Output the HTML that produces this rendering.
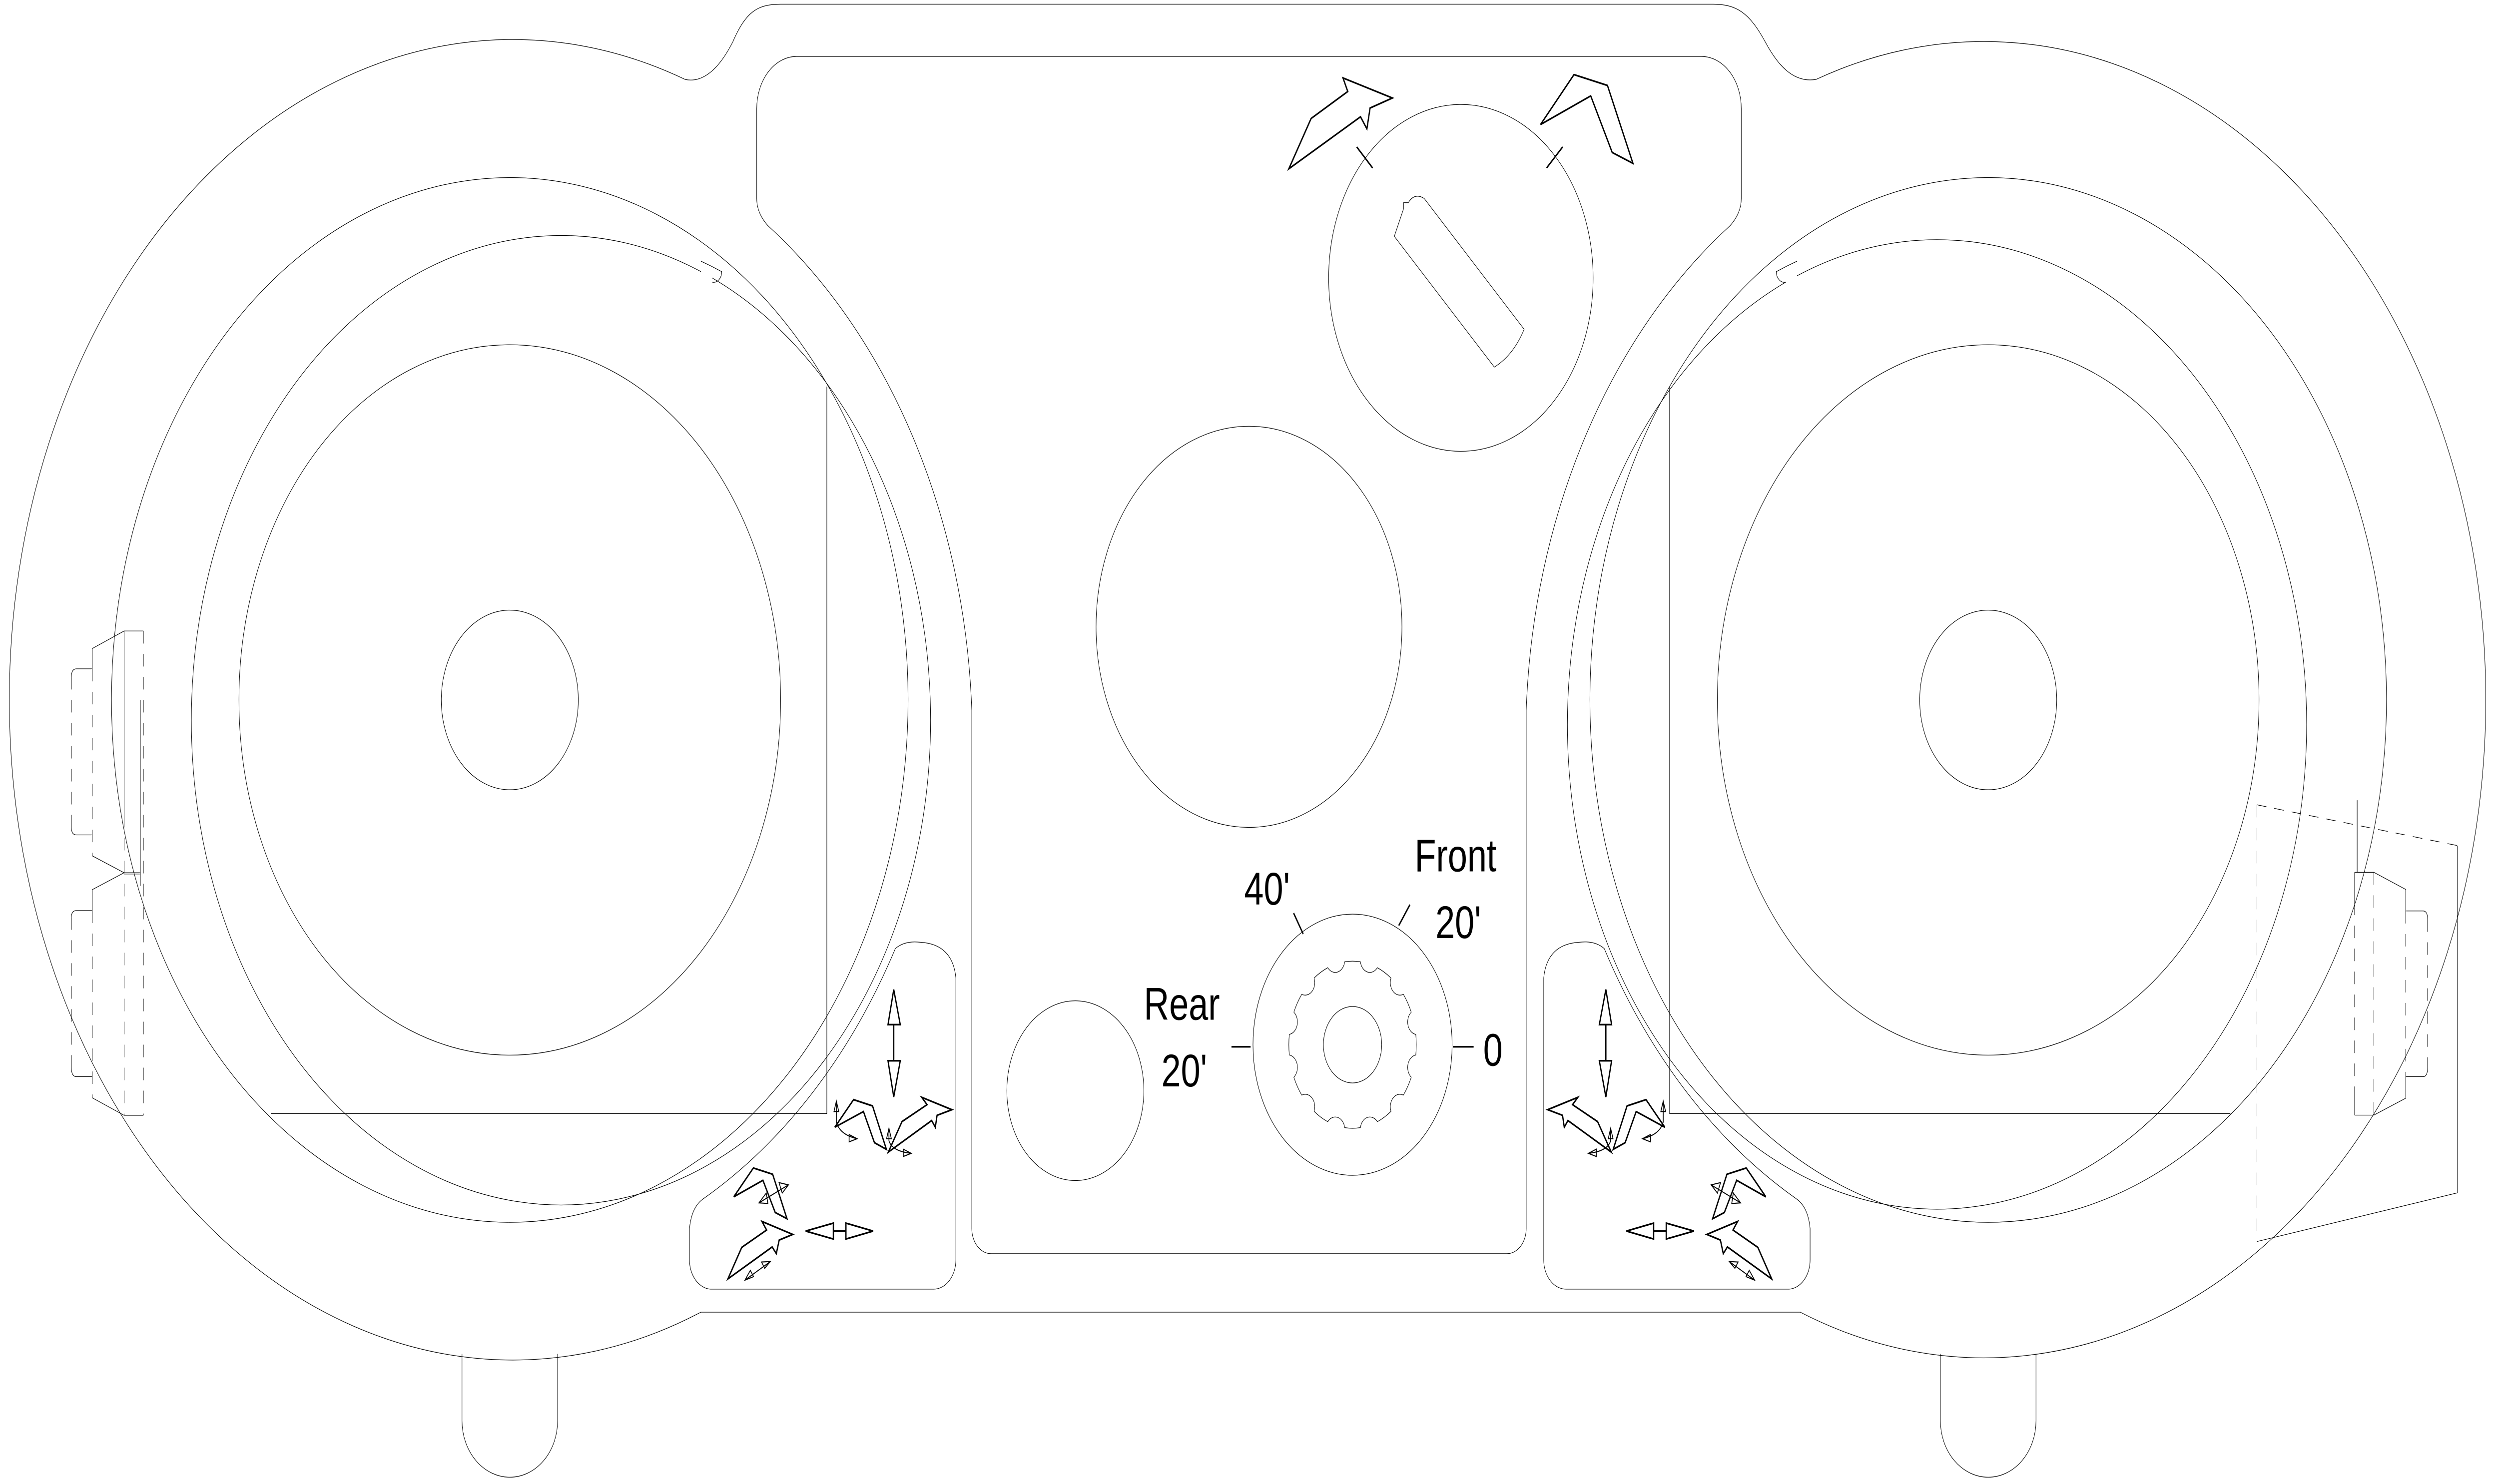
<!DOCTYPE html>
<html><head><meta charset="utf-8"><style>
html,body{margin:0;padding:0;background:#fff;width:100%;height:100%;overflow:hidden}
svg{display:block;position:absolute;left:0;top:0;width:100vw;height:100vh}
text{font-family:"Liberation Sans",sans-serif;font-size:22px;fill:#000}
</style></head><body>
<svg viewBox="0 0 1568 710.25" preserveAspectRatio="none" xmlns="http://www.w3.org/2000/svg">
<g fill="none" stroke="#000" stroke-width="0.3">
<!-- outer body -->
<path d="M430,38 A316,316 0 1 0 440,628 L1130,628 A315,315 0 1 0 1140,38 C1125,40 1115,30 1108,20 C1098,6 1090,2 1075,2 L490,2 C475,2 468,6 460,20 C452,32 442,40 430,38 Z"/>
<!-- tabs -->
<path d="M290,648 L290,680 A30,27 0 0 0 350,680 L350,648"/>
<path d="M1218,648 L1218,680 A30,27 0 0 0 1278,680 L1278,648"/>
<!-- inner panel -->
<path d="M500,27 L1068,27 A25,25 0 0 1 1093,52 L1093,95 Q1093,102 1086,108 A300,300 0 0 0 958,340 L958,588 A12,12 0 0 1 946,600 L622,600 A12,12 0 0 1 610,588 L610,340 A300,300 0 0 0 482,108 Q475,102 475,95 L475,52 A25,25 0 0 1 500,27 Z"/>
<!-- left lobe -->
<circle cx="320" cy="335" r="250"/>
<path d="M447,133 A232,232 0 1 1 440,130"/>
<path d="M440,125 A242,242 0 0 1 453,130 A5,5 0 0 1 447,135"/>
<circle cx="320" cy="335" r="170"/>
<circle cx="320" cy="335" r="43"/>
<path d="M519,185 L519,533 L170,533"/>
<!-- right lobe -->
<circle cx="1248" cy="335" r="250"/>
<path d="M1128,132 A232,232 0 1 1 1121,135"/>
<path d="M1128,125 A242,242 0 0 0 1115,130 A5,5 0 0 0 1121,135"/>
<circle cx="1248" cy="335" r="170"/>
<circle cx="1248" cy="335" r="43"/>
<path d="M1048,185 L1048,533 L1400,533"/>
<!-- center -->
<circle cx="784" cy="300" r="96"/>
<circle cx="917" cy="133" r="83"/>
<path d="M894,95 L956.7,157.6 Q950,170 938,175.7 L875.2,113.1 L881,100 L881,97 L884,97 Q888,92 894,95 Z"/>
<circle cx="675" cy="522" r="43"/>
<circle cx="849" cy="500" r="62.5"/>
<path d="M888.69,504.94 A40,40 0 0 0 888.69,495.06 A6,6 0 0 1 885.85,484.44 A40,40 0 0 0 880.90,475.87 A6,6 0 0 1 873.13,468.10 A40,40 0 0 0 864.56,463.15 A6,6 0 0 1 853.94,460.31 A40,40 0 0 0 844.06,460.31 A6,6 0 0 1 833.44,463.15 A40,40 0 0 0 824.87,468.10 A6,6 0 0 1 817.10,475.87 A40,40 0 0 0 812.15,484.44 A6,6 0 0 1 809.31,495.06 A40,40 0 0 0 809.31,504.94 A6,6 0 0 1 812.15,515.56 A40,40 0 0 0 817.10,524.13 A6,6 0 0 1 824.87,531.90 A40,40 0 0 0 833.44,536.85 A6,6 0 0 1 844.06,539.69 A40,40 0 0 0 853.94,539.69 A6,6 0 0 1 864.56,536.85 A40,40 0 0 0 873.13,531.90 A6,6 0 0 1 880.90,524.13 A40,40 0 0 0 885.85,515.56 A6,6 0 0 1 888.69,504.94 Z"/>
<circle cx="849" cy="500" r="18.3"/>
<!-- bottom compartments -->
<path d="M578,451 Q598,452 600,468 L600,603 A14,14 0 0 1 586,617 L446,617 A14,14 0 0 1 432.8,603 L432.8,588 Q434,578 441,574 A300,300 0 0 0 562,454 Q568,450 578,451 Z"/>
<path d="M578,451 Q598,452 600,468 L600,603 A14,14 0 0 1 586,617 L446,617 A14,14 0 0 1 432.8,603 L432.8,588 Q434,578 441,574 A300,300 0 0 0 562,454 Q568,450 578,451 Z" transform="translate(1569,0) scale(-1,1)"/>
<!-- left piece -->
<path d="M57.9,310.4 L77.9,302 L90,302 M57.9,310.4 L57.9,320.1 L48,320.1 Q44.8,320.1 44.8,324 M44.8,396 Q44.8,399.6 48,399.6 L57.9,399.6 M57.9,409.6 L77.9,417.7 L57.9,425.8 L57.9,435.8 L48,435.8 Q44.8,435.8 44.8,439 M44.8,511 Q44.8,515.3 48,515.3 L57.9,515.3 M57.9,525.4 L77.9,533.8 L90,533.8 M77.9,302 L77.9,390 M88.1,335 L88.1,424 M77.9,417.7 L88.1,417.7 M77.9,418.3 L88.1,418.3"/>
<g stroke-dasharray="6,5">
<path d="M44.8,324 L44.8,396 M44.8,439 L44.8,511 M57.9,320.1 L57.9,409.6 M57.9,435.8 L57.9,525.4 M77.9,390 L77.9,533.8 M90,302 L90,533.8"/>
</g>
<!-- right piece -->
<path d="M1542.5,404.7 L1542.5,570.9 L1416.7,594.2 M1478,417.5 L1490.1,417.5 L1510.1,425.7 L1510.1,436 L1521,436 Q1523.8,436 1523.8,440 M1523.8,511 Q1523.8,515.3 1521,515.3 L1510.1,515.3 L1510.1,525.6 L1490.1,533.7 L1478,533.7 M1478,417.5 L1478,432 M1479.6,383 L1479.6,417.5 M1478,520 L1478,533.7"/>
<g stroke-dasharray="6,5">
<path d="M1416.7,385.2 L1542.5,404.7 M1416.7,385.2 L1416.7,594.2 M1478,432 L1478,520 M1490.1,417.5 L1490.1,533.7 M1510.1,436 L1510.1,515.3 M1523.8,440 L1523.8,511"/>
</g>
</g>
<g fill="none" stroke="#000" stroke-width="0.8" stroke-linejoin="miter">
<!-- ticks -->
<path d="M851.6,70.3 L861.6,80.4 M980.9,70.3 L970.8,80.4 M812,437 L818,447 M878,443 L885,433 M773,501 L785,501 M912,501 L925,501"/>
<!-- top arrows -->
<path d="M809,80.8 L823,56.7 L846,43.8 L843,37.3 L874,46.9 L860,51.7 L858,61.7 L854,55.9 Z"/>
<path d="M967,59.6 L988,35.7 L1009,40.9 L1025,78.2 L1012,73 L998.5,45.9 Z"/>
<g id="arr">
<path d="M561,473.6 L557.4,490.4 L565.1,490.4 Z M561,490.4 L561,507.7 M557.4,507.7 L565.1,507.7 L561,525 Z"/>
<path d="M505.7,589.2 L523.1,585.4 L523.1,593 Z M523.1,589.2 L531,589.2 M531,585.4 L548.1,589.2 L531,593 Z"/>
<path d="M524,539.5 L535.8,526.3 L547.7,529.3 L556.4,550.1 L548.9,546.9 L542,532 Z"/>
<path d="M557.6,551.4 L566.2,536.8 L581.9,528.7 L578.6,525.2 L597.5,531.1 L588.2,533.8 L587.1,539.5 L584.8,536.3 Z"/>
<path d="M460.6,572.8 L472.9,559 L485,562 L494,583.3 L486.6,580.3 L478.9,564.9 Z"/>
<path d="M456.9,612.1 L465.6,597 L481.2,588.7 L478.3,584.6 L497.6,590.8 L489.1,593.5 L487.3,600 L484.7,596.8 Z"/>
<g stroke-width="0.5">
<path d="M476.4,575.7 L494.9,567.1 M476.4,575.7 L481,571 L482,576 Z M494.9,567.1 L489,566 L491,571 Z"/>
<path d="M467.6,612.7 L483.5,603.8 M467.6,612.7 L471,608 L473,611 Z M483.5,603.8 L478,604 L480,607 Z"/>
<path d="M525,527 L525,537 Q527,543 538,545 M525,527 L523.5,532 L526.5,532 Z M538,545 L533,543 L533,546.5 Z"/>
<path d="M558,540 L558,546 Q560,551 572,552 M558,540 L556.5,545 L559.5,545 Z M572,552 L567,550 L567,553.5 Z"/>
</g>
</g>
<use href="#arr" transform="translate(1569,0) scale(-1,1)"/>
</g>
<text x="888" y="417">Front</text>
<text x="901" y="449">20'</text>
<text x="781" y="433">40'</text>
<text x="718" y="488">Rear</text>
<text x="729" y="520">20'</text>
<text x="931" y="510">0</text>
</svg>
</body></html>
